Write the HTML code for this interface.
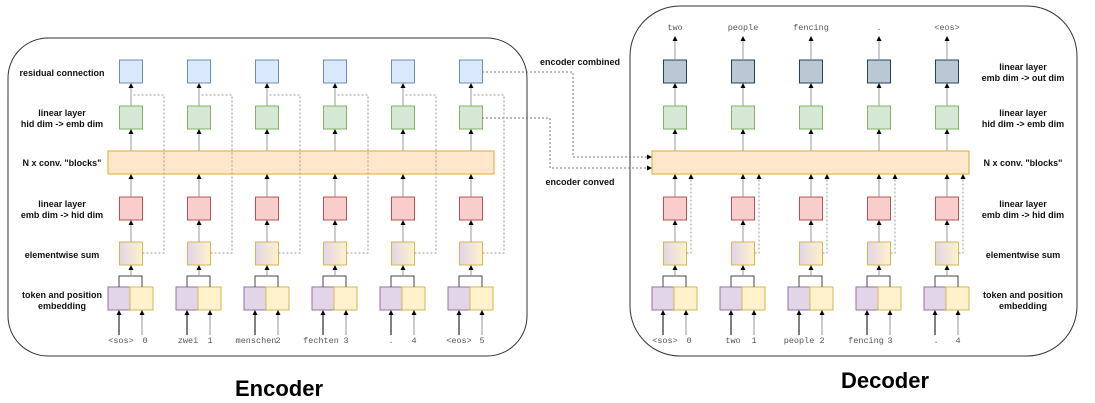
<!DOCTYPE html>
<html><head><meta charset="utf-8"><style>
html,body{margin:0;padding:0;background:#fff}
svg{display:block}
.l{font-family:"Liberation Sans",sans-serif;font-size:9px;font-weight:bold;fill:#111;text-anchor:middle}
.m{font-family:"Liberation Mono",monospace;font-size:8.5px;fill:#555;text-anchor:middle}
.t{font-family:"Liberation Sans",sans-serif;font-weight:bold;font-size:22px;fill:#000;text-anchor:middle}
</style></head><body>
<svg width="1095" height="403" viewBox="0 0 1095 403" xmlns="http://www.w3.org/2000/svg">
<defs>
<marker id="a" markerWidth="5" markerHeight="5" refX="4" refY="2.5" orient="auto" markerUnits="userSpaceOnUse"><path d="M0,0 L5,2.5 L0,5 z" fill="#000"/></marker>
<linearGradient id="g" x1="0" x2="1" y1="0" y2="0"><stop offset="0" stop-color="#e1d5e7"/><stop offset="1" stop-color="#fff2cc"/></linearGradient>
<g id="low">
<rect x="-23" y="287" width="22" height="23" fill="#e1d5e7" stroke="#9673a6"/>
<rect x="-1" y="287" width="23" height="23" fill="#fff2cc" stroke="#d6b656"/>
<line x1="-12" y1="335" x2="-12" y2="311" stroke="#000" marker-end="url(#a)"/>
<line x1="11" y1="335" x2="11" y2="311" stroke="#999" marker-end="url(#a)"/>
<path d="M-12,287 V276 H11 V287" fill="none" stroke="#444"/>
<line x1="0" y1="276" x2="0" y2="266" stroke="#999" marker-end="url(#a)"/>
<rect x="-11.5" y="242" width="23" height="23" fill="url(#g)" stroke="#d6b656"/>
<line x1="0" y1="242" x2="0" y2="221" stroke="#999" marker-end="url(#a)"/>
<rect x="-11.5" y="197" width="23" height="23" fill="#f8cecc" stroke="#b85450"/>
<line x1="0" y1="197" x2="0" y2="175" stroke="#999" marker-end="url(#a)"/>
<line x1="0" y1="151" x2="0" y2="130" stroke="#999" marker-end="url(#a)"/>
<rect x="-11.5" y="106" width="23" height="23" fill="#d5e8d4" stroke="#82b366"/>
<line x1="0" y1="106" x2="0" y2="84" stroke="#999" marker-end="url(#a)"/>
</g>
<g id="enc">
<use href="#low"/>
<rect x="-11.5" y="60" width="23" height="23" fill="#dae8fc" stroke="#6c8ebf"/>
<path d="M11.5,253 H33 V95 H0" fill="none" stroke="#999" stroke-dasharray="2,2"/>
</g>
<g id="dec">
<use href="#low"/>
<rect x="-11.5" y="60" width="23" height="23" fill="#bac8d3" stroke="#23445d"/>
<line x1="0" y1="60" x2="0" y2="37" stroke="#999" marker-end="url(#a)"/>
<path d="M11.5,253 H16 V175" fill="none" stroke="#999" stroke-dasharray="2,2" marker-end="url(#a)"/>
</g>
</defs>

<rect x="8" y="38" width="519" height="318" rx="40" ry="40" fill="none" stroke="#333"/>
<rect x="630" y="6" width="447" height="350" rx="50" ry="50" fill="none" stroke="#333"/>

<rect x="108" y="151" width="386" height="23" fill="#ffe6cc" stroke="#e0a92a"/>
<rect x="652" y="151" width="317" height="23" fill="#ffe6cc" stroke="#e0a92a"/>

<use href="#enc" x="131"/><use href="#enc" x="199"/><use href="#enc" x="267"/>
<use href="#enc" x="335"/><use href="#enc" x="403"/><use href="#enc" x="471"/>
<use href="#dec" x="675"/><use href="#dec" x="743"/><use href="#dec" x="811"/>
<use href="#dec" x="879"/><use href="#dec" x="947"/>

<path d="M482,72 H573 V157 H651" fill="none" stroke="#777" stroke-dasharray="2,2" marker-end="url(#a)"/>
<path d="M482,118 H550 V168 H651" fill="none" stroke="#777" stroke-dasharray="2,2" marker-end="url(#a)"/>
<text class="l" x="580" y="65">encoder combined</text>
<text class="l" x="580" y="185">encoder conved</text>

<text class="l" x="62" y="76">residual connection</text>
<text class="l" x="62" y="116">linear layer</text><text class="l" x="62" y="127">hid dim -&gt; emb dim</text>
<text class="l" x="62" y="166">N x conv. "blocks"</text>
<text class="l" x="62" y="207">linear layer</text><text class="l" x="62" y="218">emb dim -&gt; hid dim</text>
<text class="l" x="62" y="258">elementwise sum</text>
<text class="l" x="62" y="298">token and position</text><text class="l" x="62" y="309">embedding</text>

<text class="l" x="1023" y="70">linear layer</text><text class="l" x="1023" y="81">emb dim -&gt; out dim</text>
<text class="l" x="1023" y="116">linear layer</text><text class="l" x="1023" y="127">hid dim -&gt; emb dim</text>
<text class="l" x="1023" y="166">N x conv. "blocks"</text>
<text class="l" x="1023" y="207">linear layer</text><text class="l" x="1023" y="218">emb dim -&gt; hid dim</text>
<text class="l" x="1023" y="258">elementwise sum</text>
<text class="l" x="1023" y="298">token and position</text><text class="l" x="1023" y="309">embedding</text>

<text class="m" x="121" y="343">&lt;sos&gt;</text><text class="m" x="145" y="343">0</text>
<text class="m" x="188" y="343">zwei</text><text class="m" x="210" y="343">1</text>
<text class="m" x="256" y="343">menschen</text><text class="m" x="278" y="343">2</text>
<text class="m" x="321" y="343">fechten</text><text class="m" x="346" y="343">3</text>
<text class="m" x="391" y="343">.</text><text class="m" x="414" y="343">4</text>
<text class="m" x="459" y="343">&lt;eos&gt;</text><text class="m" x="482" y="343">5</text>

<text class="m" x="665" y="343">&lt;sos&gt;</text><text class="m" x="689" y="343">0</text>
<text class="m" x="733" y="343">two</text><text class="m" x="754" y="343">1</text>
<text class="m" x="799" y="343">people</text><text class="m" x="822" y="343">2</text>
<text class="m" x="866" y="343">fencing</text><text class="m" x="890" y="343">3</text>
<text class="m" x="936" y="343">.</text><text class="m" x="958" y="343">4</text>

<text class="m" x="675" y="30">two</text>
<text class="m" x="743" y="30">people</text>
<text class="m" x="811" y="30">fencing</text>
<text class="m" x="879" y="30">.</text>
<text class="m" x="947" y="30">&lt;eos&gt;</text>

<text class="t" x="279" y="396">Encoder</text>
<text class="t" x="885" y="388">Decoder</text>
</svg>
</body></html>
